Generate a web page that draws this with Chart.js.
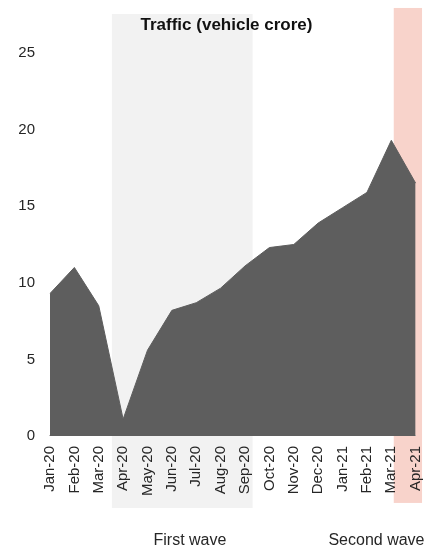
<!DOCTYPE html>
<html>
<head>
<meta charset="utf-8">
<script src="https://cdn.jsdelivr.net/npm/chart.js@4"></script>
<style>
  html, body { margin: 0; padding: 0; background: #fff; }
  #wrap { width: 430px; height: 548px; }
</style>
</head>
<body>
<div id="wrap"><canvas id="myChart" width="430" height="548"></canvas></div>
<script>
// data
var months = ['Jan-20', 'Feb-20', 'Mar-20', 'Apr-20', 'May-20', 'Jun-20', 'Jul-20', 'Aug-20',
    'Sep-20', 'Oct-20', 'Nov-20', 'Dec-20', 'Jan-21', 'Feb-21', 'Mar-21', 'Apr-21'];
var traffic = [9.3, 11.0, 8.5, 1.1, 5.6, 8.2, 8.7, 9.65, 11.1, 12.3, 12.5, 13.9, 14.9, 15.9, 19.3, 16.5];
var yTicks = [0, 5, 10, 15, 20, 25];
var waveNames = ['First wave', 'Second wave'];
var chartTitle = 'Traffic (vehicle crore)';

// shaded bands, in category index / y value units
var bands = [
    { from: 2.54, to: 8.31, top: 27.55, bottom: -4.7, color: '#f2f2f2', labelAt: 5.74 },
    { from: 14.1, to: 15.26, top: 27.94, bottom: -4.37, color: '#f8d3cb', labelAt: 13.39 }
];

var wavePlugin = {
    id: 'waves',
    beforeDraw: function(chart) {
        var c = chart.ctx, xs = chart.scales.x, ys = chart.scales.y;
        c.save();
        bands.forEach(function(b) {
            var x1 = xs.getPixelForValue(b.from), x2 = xs.getPixelForValue(b.to);
            var y1 = ys.getPixelForValue(b.top), y2 = ys.getPixelForValue(b.bottom);
            c.fillStyle = b.color;
            c.fillRect(x1, y1, x2 - x1, y2 - y1);
        });
        c.restore();
    },
    afterDraw: function(chart) {
        var c = chart.ctx, xs = chart.scales.x;
        c.save();
        c.font = '16px "Liberation Sans", Arial, sans-serif';
        c.fillStyle = '#262626';
        c.textAlign = 'center';
        c.textBaseline = 'middle';
        bands.forEach(function(b, i) {
            c.fillText(waveNames[i], xs.getPixelForValue(b.labelAt), 541);
        });
        // title sits a bit left of the plot centre in the original
        c.font = 'bold 17px "Liberation Sans", Arial, sans-serif';
        c.fillStyle = '#111';
        c.fillText(chartTitle, 226.5, 25);
        c.restore();
    }
};

var ctx = document.getElementById('myChart').getContext('2d');
var myChart = new Chart(ctx, {
    type: 'line',
    data: {
        labels: months,
        datasets: [{
            label: 'Traffic',
            data: traffic,
            fill: 'origin',
            backgroundColor: '#5e5e5e',
            borderColor: '#5e5e5e',
            borderWidth: 1,
            pointRadius: 0,
            tension: 0
        }]
    },
    options: {
        responsive: false,
        animation: false,
        layout: { padding: { left: 3.3, right: 14.3, top: 53, bottom: 42 } },
        plugins: {
            legend: { display: false },
            tooltip: { enabled: false },
            title: { display: false }
        },
        scales: {
            x: {
                offset: false,
                grid: { display: false, drawTicks: false },
                border: { display: true, color: '#bfbfbf' },
                // rotated labels ask for extra room on the right; drop it
                afterFit: function(axis) {
                    axis.paddingRight = 0;
                },
                ticks: {
                    color: '#262626',
                    font: { family: '"Liberation Sans", Arial, sans-serif', size: 15 },
                    minRotation: 90,
                    maxRotation: 90,
                    autoSkip: false,
                    padding: 10
                }
            },
            y: {
                min: 0,
                max: 25,
                grid: { display: false, drawTicks: false },
                border: { display: false },
                afterBuildTicks: function(axis) {
                    axis.ticks = yTicks.map(function(v) { return { value: v }; });
                },
                ticks: {
                    color: '#262626',
                    font: { family: '"Liberation Sans", Arial, sans-serif', size: 15 },
                    padding: 15
                }
            }
        }
    },
    plugins: [wavePlugin]
});
</script>
</body>
</html>
